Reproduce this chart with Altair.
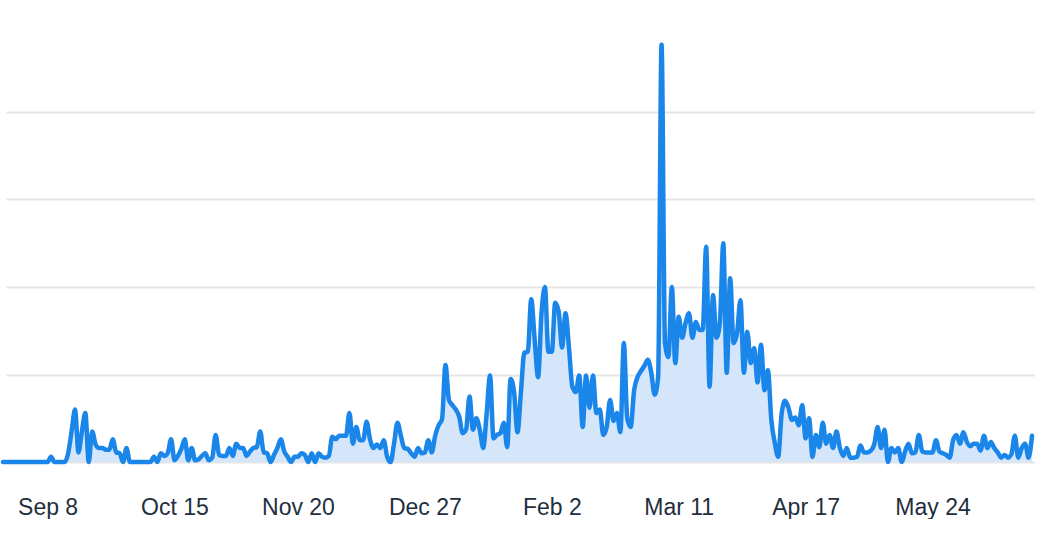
import altair as alt
import pandas as pd

# Daily values (one per day, starting 2022-08-26)
values = [
    0, 0, 0, 0, 0, 0, 0, 0, 0, 0, 0, 0, 0, 0,            # 0-13
    0.6, 0, 0, 0, 0, 1.0, 3.5, 6.0, 1.1, 3.5,            # 14-23
    5.6, 0, 3.5, 2.0, 1.6, 1.6, 1.4, 1.4, 2.6, 1.1,      # 24-33
    1.0, 0, 1.6, 0, 0, 0, 0, 0, 0, 0,                    # 34-43
    0.6, 0, 1.0, 0.7, 1.0, 2.6, 0.2, 0.7, 1.5, 2.6,      # 44-53
    0.2, 1.6, 0.2, 0.3, 0.7, 1.0, 0.2, 0.5, 3.1, 0.8,    # 54-63
    0.7, 0.7, 1.6, 0.7, 2.1, 1.6, 1.6, 0.7, 1.2, 1.6,    # 64-73
    1.7, 3.5, 1.1, 1.0, 0, 0.8, 1.6, 2.6, 1.2, 0.6,      # 74-83
    0, 0.6, 0.6, 1.0, 0.8, 0, 1.0, 0, 1.0, 0.6,          # 84-93
    0.5, 0.7, 2.9, 2.6, 3.0, 3.0, 3.0, 5.6, 2.1, 4.0,    # 94-103
    2.5, 2.5, 4.6, 2.6, 1.6, 2.0, 1.6, 2.5, 0.6, 0,      # 104-113
    2.1, 4.5, 3.0, 1.6, 1.5, 1.0, 0.6, 1.6, 1.0, 1.1,    # 114-123
    2.5, 1.1, 3.0, 4.2, 4.9, 11.1, 7.1, 6.5, 6.0, 5.2,   # 124-133
    3.3, 3.7, 7.5, 3.7, 5.0, 3.7, 1.6, 5.5, 9.9, 2.7,    # 134-143
    3.1, 3.3, 4.5, 1.7, 9.5, 8.0, 3.4, 8.0, 12.5, 12.6,  # 144-153
    18.6, 14.0, 9.7, 17.0, 20.0, 12.6, 12.6, 18.2, 17.2, 13.1,  # 154-163
    17.0, 13.1, 8.6, 8.0, 9.9, 4.0, 9.9, 6.2, 9.9, 5.6,  # 164-173
    6.0, 3.1, 4.0, 7.1, 4.7, 5.6, 3.4, 13.6, 5.0, 4.0,   # 174-183
    8.2, 9.7, 10.4, 11.0, 11.7, 10.2, 7.7, 9.7, 47.7, 13.6,  # 184-193
    12.0, 20.0, 11.3, 16.6, 14.2, 15.9, 17.0, 14.2, 16.0, 15.1,  # 194-203
    15.1, 24.6, 8.6, 19.1, 14.2, 15.9, 25.0, 10.2, 21.0, 13.6,  # 204-213
    14.7, 18.5, 10.2, 14.9, 11.3, 13.0, 9.1, 13.4, 8.2, 10.5,  # 214-223
    4.8, 2.2, 0.6, 5.5, 7.0, 6.2, 4.8, 5.1, 4.2, 6.5,    # 224-233
    2.7, 5.0, 0.6, 3.1, 1.7, 4.5, 2.1, 3.1, 1.6, 3.5,    # 234-243
    1.6, 0.7, 1.6, 0.5, 0.5, 0.6, 1.9, 1.1, 1.1, 1.3,    # 244-253
    2.0, 4.0, 1.6, 3.7, 0, 1.6, 1.1, 1.6, 0, 1.2,        # 254-263
    2.1, 1.0, 1.1, 3.1, 1.2, 1.1, 1.1, 1.1, 2.5, 1.2,    # 264-273
    1.0, 0.8, 0.5, 2.5, 3.1, 2.1, 3.4, 2.3, 1.8, 2.1,    # 274-283
    2.1, 1.3, 3.0, 1.6, 2.3, 1.6, 1.1, 0.5, 0.8, 0.5,    # 284-293
    0.9, 3.0, 0.5, 1.6, 2.1, 0.5, 3.0,                   # 294-300
]

dates = pd.date_range("2022-08-26", periods=len(values), freq="D").strftime("%Y-%m-%dT00:00:00")

tick_dates = [
    (2022, 9, 8), (2022, 10, 15), (2022, 11, 20), (2022, 12, 27),
    (2023, 2, 2), (2023, 3, 11), (2023, 4, 17), (2023, 5, 24),
]
grid_values = [0, 10, 20, 30, 40]

df = pd.DataFrame({"date": list(dates), "value": values})

x_enc = alt.X(
    "date:T",
    scale=alt.Scale(
        domain=[alt.DateTime(year=2022, month=8, date=26, hours=21),
                alt.DateTime(year=2023, month=6, date=22, hours=21)],
        nice=False,
    ),
    axis=alt.Axis(
        values=[alt.DateTime(year=y, month=m, date=d) for (y, m, d) in tick_dates],
        format="%b %-d",
        title=None,
        grid=False,
        domain=False,
        ticks=False,
        tickSize=0,
        labelFont="Liberation Sans",
        labelFontSize=23,
        labelColor="#1f2f3d",
        labelPadding=52,
        labelBaseline="alphabetic",
        labelAlign="center",
        labelOverlap=False,
    ),
)
y_enc = alt.Y(
    "value:Q",
    scale=alt.Scale(domain=[0, 52.8], nice=False, zero=True),
    axis=alt.Axis(
        values=grid_values,
        title=None,
        labels=False,
        ticks=False,
        domain=False,
        grid=True,
        gridColor="#e6e6e6",
        gridWidth=2,
    ),
)

base = alt.Chart(df).encode(x=x_enc, y=y_enc)

area = base.mark_area(interpolate="monotone", color="#d5e6fa", opacity=1)
line = base.mark_line(
    interpolate="monotone", color="#1a86ea", strokeWidth=4.5,
    strokeCap="round", strokeJoin="round",
)

chart = (
    alt.layer(area, line)
    .properties(width=1029, height=462, padding=0, background="white")
    .configure_view(strokeWidth=0, stroke=None)
)

chart.save("out.html", embed_options={"renderer": "svg", "actions": False})
